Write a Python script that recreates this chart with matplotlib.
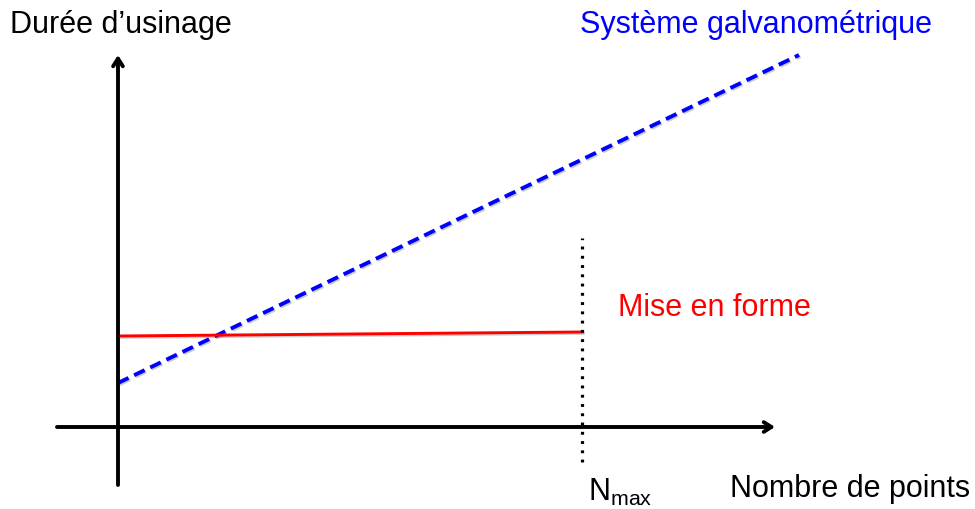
import matplotlib.pyplot as plt
import matplotlib.patheffects as pe

plt.rcParams['font.family'] = ['Liberation Sans', 'DejaVu Sans']

# durée d'usinage en fonction du nombre de points (unités arbitraires)
n_galvo = [0.0, 6.81]
t_galvo = [0.44, 3.72]
n_forme = [0.0, 4.64]
t_forme = [0.91, 0.95]
n_max = 4.64

fig = plt.figure(figsize=(9.75, 5.09), dpi=100)
ax = fig.add_axes([0, 0, 1, 1])
ax.set_xlim(-1.18, 8.57)
ax.set_ylim(-0.82, 4.27)
ax.axis('off')

shadow = [pe.SimpleLineShadow(offset=(1, -1), alpha=0.2), pe.Normal()]

# axes avec flèches
arrow = dict(arrowstyle='->,head_length=0.55,head_width=0.35', lw=2.8, color='black',
             shrinkA=0, shrinkB=0)
ax.annotate('', xy=(6.57, 0), xytext=(-0.61, 0), arrowprops=arrow)
ax.annotate('', xy=(0, 3.72), xytext=(0, -0.58), arrowprops=arrow)

ax.plot(n_galvo, t_galvo, color='#0000ff', lw=2.8, linestyle=(0, (3.0, 1.6)),
        path_effects=shadow, solid_capstyle='butt')
ax.plot(n_forme, t_forme, color='#ff0000', lw=2.1, path_effects=shadow)
ax.plot([n_max, n_max], [-0.35, 1.89], color='black', lw=2.3,
        linestyle=(0, (0.9, 2.0)))

ax.text(-1.08, 4.02, 'Durée d’usinage', fontsize=22, va='center', ha='left')
ax.text(4.62, 4.02, 'Système galvanométrique', fontsize=22, color='#0000ff',
        va='center', ha='left')
ax.text(5.0, 1.19, 'Mise en forme', fontsize=22, color='#ff0000',
        va='center', ha='left')
ax.text(4.70, -0.65, r'N$_{\mathregular{max}}$', fontsize=22, va='center', ha='left')
ax.text(6.12, -0.62, 'Nombre de points', fontsize=22, va='center', ha='left')

fig.savefig('out.png', dpi=100)
